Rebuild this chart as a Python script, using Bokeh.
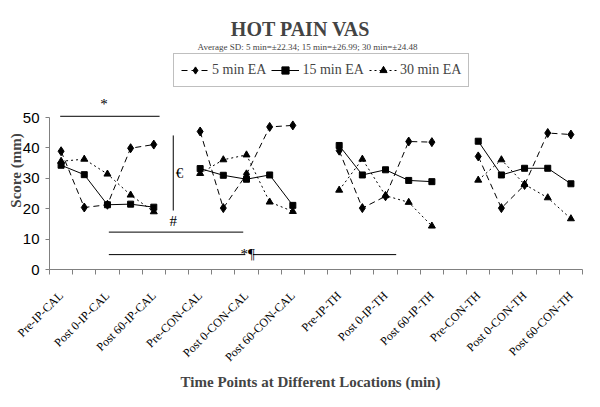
import math
import numpy as np
from bokeh.plotting import figure
from bokeh.models import Range1d, FixedTicker, Legend, LegendItem, Label
from bokeh.core.properties import value
from bokeh.embed import file_html
from bokeh.resources import INLINE

# ---------------- data ----------------
groups = ["IP-CAL", "CON-CAL", "IP-TH", "CON-TH"]
points_per_group = 5
tick_labels = ["Pre-IP-CAL", "Post 0-IP-CAL", "Post 60-IP-CAL",
               "Pre-CON-CAL", "Post 0-CON-CAL", "Post 60-CON-CAL",
               "Pre-IP-TH", "Post 0-IP-TH", "Post 60-IP-TH",
               "Pre-CON-TH", "Post 0-CON-TH", "Post 60-CON-TH"]
ea5 = [38.9, 20.4, 21.3, 39.9, 41.1,
       45.4, 20.2, 31.3, 46.9, 47.4,
       39.1, 20.2, 24.1, 42.1, 41.9,
       37.2, 20.2, 27.8, 44.9, 44.4]
ea15 = [34.3, 31.2, 21.3, 21.5, 20.5,
        33.2, 31.0, 29.7, 31.1, 21.1,
        40.8, 31.1, 32.8, 29.3, 28.9,
        42.2, 31.1, 33.3, 33.3, 28.2]
ea30 = [35.6, 36.3, 31.4, 24.5, 19.0,
        31.6, 36.1, 37.7, 22.2, 19.1,
        26.1, 36.3, 24.3, 22.1, 14.3,
        29.4, 36.1, 28.0, 23.6, 16.7]
y_ticks = [0, 10, 20, 30, 40, 50]
y_bounds = (0, 50)
series_names = ["5 min EA", "15 min EA", "30 min EA"]
title = "HOT PAIN VAS"
subtitle = "Average SD: 5 min=\u00b122.34; 15 min=\u00b126.99; 30 min=\u00b124.48"
x_title = "Time Points at Different Locations (min)"
y_title = "Score (mm)"

# significance annotations (category units / score units)
sig_lines_x0 = [-0.04, 4.84, 2.06, 2.06, 8.28]
sig_lines_x1 = [4.25, 4.84, 7.86, 7.95, 14.46]
sig_lines_y0 = [50.4, 19.4, 12.3, 4.9, 4.9]
sig_lines_y1 = [50.4, 44.1, 12.3, 4.9, 4.9]
sig_text = ["*", "\u20ac", "#"]
sig_text_x = [1.85, 4.95, 4.84]
sig_text_y = [54.3, 31.9, 16.1]
sig_text_align = ["center", "left", "center"]

slot = points_per_group + 1
n_slots = slot * len(groups) - 1


def series_xy(vals):
    xs, ys = [], []
    for g in range(len(groups)):
        for j in range(points_per_group):
            xs.append(g * slot + j)
            ys.append(vals[g * points_per_group + j])
        xs.append(np.nan)
        ys.append(np.nan)
    return xs, ys


label_ticks = [g * slot + 2 * k for g in range(len(groups)) for k in range(3)]
minor = [i - 0.5 for i in range(n_slots + 1)]
x_lo, x_hi = -0.5, n_slots - 0.5

p = figure(width=584, height=391,
           x_range=Range1d(-2.615, 22.586), y_range=Range1d(-40.13, 88.49),
           output_backend="svg", toolbar_location=None,
           min_border_left=0, min_border_right=0, min_border_top=0,
           min_border_bottom=0)
p.outline_line_color = None
p.xgrid.grid_line_color = None
p.ygrid.grid_line_color = None
p.background_fill_color = "white"
p.border_fill_color = "white"

# y axis (drawn at the first category boundary)
p.yaxis.fixed_location = x_lo
p.yaxis.ticker = FixedTicker(ticks=y_ticks)
p.yaxis.bounds = y_bounds
p.yaxis.axis_line_color = "#808080"
p.yaxis.major_tick_line_color = "#808080"
p.yaxis.minor_tick_line_color = None
p.yaxis.major_tick_out = 4
p.yaxis.major_tick_in = 0
p.yaxis.major_label_standoff = 6
p.yaxis.major_label_text_font = "Liberation Sans"
p.yaxis.major_label_text_font_size = "15px"
p.yaxis.major_label_text_color = "black"

# x axis (drawn at score 0)
p.xaxis.fixed_location = 0
p.xaxis.bounds = (x_lo, x_hi)
p.xaxis.ticker = FixedTicker(ticks=label_ticks, minor_ticks=minor)
p.xaxis.major_label_overrides = {t: lab for t, lab in zip(label_ticks, tick_labels)}
p.xaxis.axis_line_color = "#808080"
p.xaxis.major_tick_line_color = None
p.xaxis.major_tick_out = 0
p.xaxis.major_tick_in = 0
p.xaxis.minor_tick_line_color = "#808080"
p.xaxis.minor_tick_out = 5
p.xaxis.minor_tick_in = 0
p.xaxis.major_label_orientation = math.pi / 4
p.xaxis.major_label_standoff = 19
p.xaxis.major_label_text_font = "Liberation Serif"
p.xaxis.major_label_text_font_size = "12px"
p.xaxis.major_label_text_color = "black"

# series
styles = [("6 4", "diamond", 9), ("solid", "square", 6), ("2 3", "triangle", 7)]
items = []
for name, vals, (dash, marker, size) in zip(series_names, [ea5, ea15, ea30], styles):
    xs, ys = series_xy(vals)
    ln = p.line(xs, ys, line_color="black", line_width=1, line_dash=dash)
    sc = p.scatter(xs, ys, marker=marker, size=size, fill_color="black",
                   line_color="black")
    items.append(LegendItem(label=name, renderers=[ln, sc]))

# annotations
p.segment(x0=sig_lines_x0, y0=sig_lines_y0, x1=sig_lines_x1, y1=sig_lines_y1,
          line_color="black", line_width=1)
for t, x, y, a in zip(sig_text, sig_text_x, sig_text_y, sig_text_align):
    p.text(x=[x], y=[y], text=[t], text_align=a, text_baseline="middle",
           text_font=value("Liberation Serif"), text_font_size="15px",
           text_color="black")
p.text(x=[7.74], y=[5.2], text=["*\u00b6"], text_align="left",
       text_baseline="alphabetic", text_font=value("Liberation Serif"),
       text_font_size="15px", text_color="black")

legend = Legend(items=items, orientation="horizontal", location=(173, 304),
                label_text_font="Liberation Serif", label_text_font_size="14px",
                glyph_width=28, glyph_height=18, label_standoff=3, spacing=5,
                padding=7, margin=0, border_line_color="#808080",
                border_line_width=1, background_fill_color="white",
                background_fill_alpha=1.0)
p.add_layout(legend, "center")

p.add_layout(Label(x=300, y=363, x_units="screen", y_units="screen",
                   text=title, text_align="center",
                   text_baseline="alphabetic", text_font="Liberation Serif",
                   text_font_size="20px", text_font_style="bold"))
p.add_layout(Label(x=307, y=345, x_units="screen", y_units="screen",
                   text=subtitle, text_align="center",
                   text_baseline="alphabetic", text_font="Liberation Serif",
                   text_font_size="9px"))
p.add_layout(Label(x=310, y=10, x_units="screen", y_units="screen",
                   text=x_title, text_align="center",
                   text_baseline="alphabetic", text_font="Liberation Serif",
                   text_font_size="15px", text_font_style="bold"))
p.add_layout(Label(x=15, y=221, x_units="screen", y_units="screen",
                   text=y_title, text_align="center", angle=math.pi / 2,
                   text_baseline="alphabetic", text_font="Liberation Serif",
                   text_font_size="15px", text_font_style="bold"))

open("out.html", "w").write(file_html(p, INLINE))
